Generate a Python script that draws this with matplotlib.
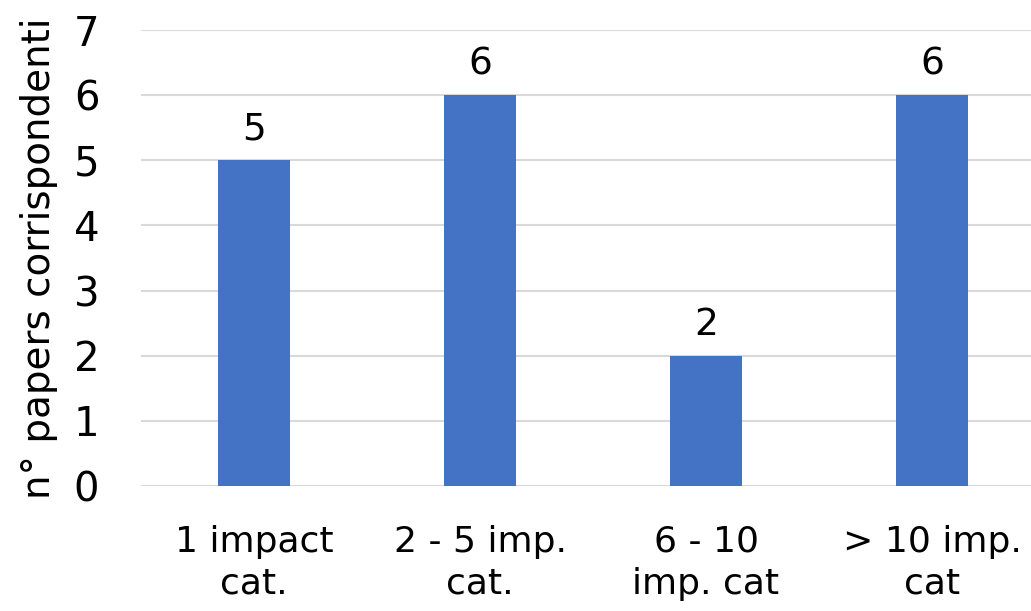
import numpy as np
from matplotlib import pyplot as plt

categories = ['1 impact\ncat.', '2 - 5 imp.\ncat.', '6 - 10\nimp. cat', '> 10 imp.\ncat']
counts = [5, 6, 2, 6]
yticks = [0, 1, 2, 3, 4, 5, 6, 7]

plt.rcParams['font.family'] = ['DejaVu Sans']

fig = plt.figure(figsize=(10.31, 6.11), dpi=100)
ax = fig.add_axes([141 / 1031, 125 / 611, 904 / 1031, 456 / 611])

x = np.arange(len(categories))
bars = ax.bar(x, counts, width=0.32, color='#4472C4', zorder=3)

for b, v in zip(bars, counts):
    ax.text(b.get_x() + b.get_width() / 2, v + 0.2, str(v),
            ha='center', va='bottom', fontsize=27, color='black')

ax.set_xlim(-0.5, len(categories) - 0.5)
ax.set_ylim(0, 7)
ax.set_yticks(yticks)
ax.yaxis.grid(True, color='#D9D9D9', linewidth=1.5, zorder=0)
ax.set_axisbelow(True)

ax.set_xticks(x)
ax.set_xticklabels(categories, fontsize=26, linespacing=1.3)
ax.tick_params(axis='x', length=0, pad=28)
ax.tick_params(axis='y', length=0, pad=30, labelsize=29)

for s in ax.spines.values():
    s.set_visible(False)

ax.set_ylabel('n° papers corrispondenti', fontsize=28)
ax.yaxis.set_label_coords(-0.092, 0.5)

fig.savefig('out.png', dpi=100)
